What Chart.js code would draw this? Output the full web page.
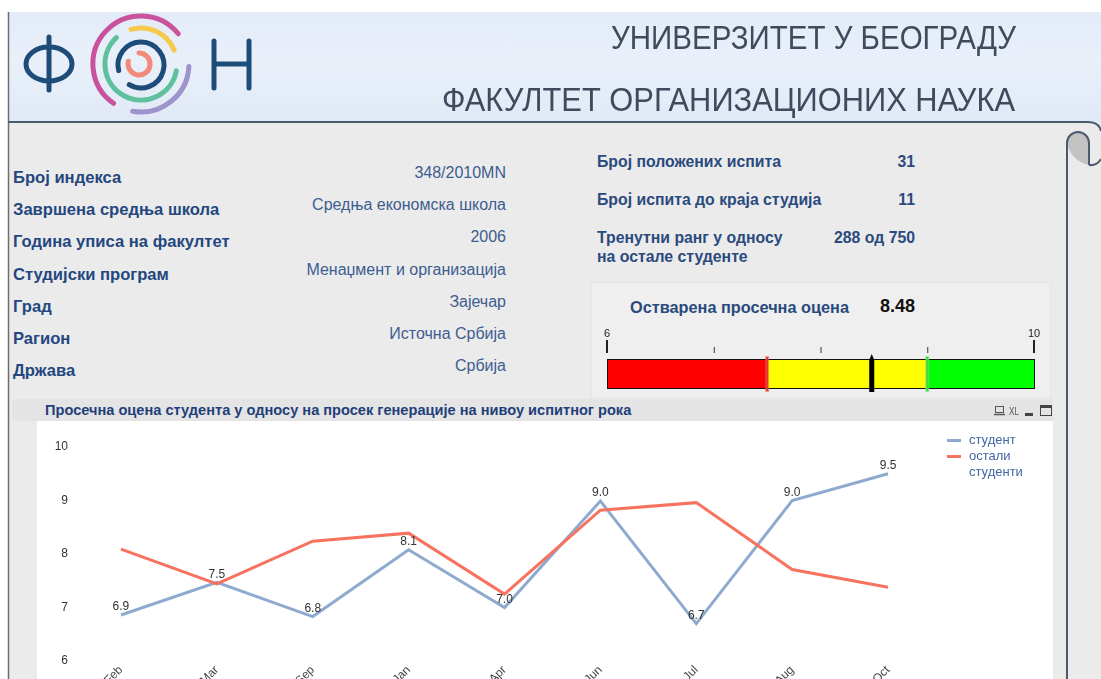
<!DOCTYPE html>
<html lang="sr">
<head>
<meta charset="utf-8">
<title>ФОН - просечна оцена студента</title>
<script src="https://cdn.jsdelivr.net/npm/chart.js@4.4.1/dist/chart.umd.min.js"></script>
<style>
  html, body { margin: 0; padding: 0; width: 1101px; height: 679px; overflow: hidden; background: #fff; }
  body { font-family: "Liberation Sans", Arial, sans-serif; }
  #page { position: relative; width: 1101px; height: 679px; overflow: hidden; }
  .abs { position: absolute; white-space: nowrap; }
  #header {
    position: absolute; left: 8px; top: 12px; width: 1093px; height: 110px;
    background: linear-gradient(180deg, #e3ebf8 0%, #e9f0fa 45%, #e0e9f6 100%);
  }
  #bodyArea { position: absolute; left: 8px; top: 122px; width: 1093px; height: 557px; background: #ebebeb; }
  .lbl { font-weight: bold; font-size: 16.6px; color: #24477f; line-height: 18px; }
  .val { font-size: 16px; color: #3d5d90; line-height: 18px; text-align: right; }
  .stat { font-weight: bold; font-size: 15.8px; color: #2a4a7e; line-height: 19px; }
  #gaugeBox { position: absolute; left: 591px; top: 282px; width: 460px; height: 116px; background: #efefef; border: 1px solid #e6e6e6; box-sizing: border-box; }
  #titleBar { position: absolute; left: 12px; top: 399px; width: 1041px; height: 22px; background: #e4e4e4; }
  #chartTitle { position: absolute; left: 45px; top: 402px; font-weight: bold; font-size: 14.6px; color: #1f3f7a; line-height: 17px; }
  #chartPanel { position: absolute; left: 37px; top: 421px; width: 1016px; height: 300px; background: #fff; }
  #chartPanel canvas { position: absolute; left: 0; top: 0; }
  .leg { font-size: 13px; color: #4466a0; line-height: 16px; }
  .legLine { position: absolute; width: 14px; height: 3px; }
</style>
</head>
<body>
<div id="page">
  <div id="header"></div>
  <div id="bodyArea"></div>
  <div id="gaugeBox"></div>
  <div id="titleBar"></div>
  <div id="chartTitle" class="abs">Просечна оцена студента у односу на просек генерације на нивоу испитног рока</div>
  <div id="chartPanel"><canvas id="gradeChart" width="1016" height="300"></canvas></div>
  <div id="legend"></div>
  <div id="info"></div>
  <div id="stats"></div>
  <div id="gauge"></div>
  <svg id="deco" class="abs" style="left:0;top:0" width="1101" height="679"></svg>
</div>

<script>
// chart data
const months = ['Feb', 'Mar', 'Sep', 'Jan', 'Apr', 'Jun', 'Jul', 'Aug', 'Oct'];
const studentAvg = [6.86, 7.47, 6.83, 8.08, 7.00, 8.99, 6.70, 9.00, 9.50];
const othersAvg = [8.09, 7.44, 8.24, 8.39, 7.25, 8.82, 8.96, 7.71, 7.38];
const yTicks = [6, 7, 8, 9, 10];
const seriesNames = ['студент', 'остали студенти'];

// student info
const infoLabels = ['Број индекса', 'Завршена средња школа', 'Година уписа на факултет', 'Студијски програм', 'Град', 'Рагион', 'Држава'];
const infoValues = ['348/2010MN', 'Средња економска школа', '2006', 'Менаџмент и организација', 'Зајечар', 'Источна Србија', 'Србија'];
const statLabels = ['Број положених испита', 'Број испита до краја студија', 'Тренутни ранг у односу<br>на остале студенте'];
const statValues = ['31', '11', '288 од 750'];

// gauge
const gaugeMin = 6, gaugeMax = 10, gaugeValue = 8.48;
const gaugeBands = [7.5, 9];

const SVGNS = 'http://www.w3.org/2000/svg';
const deco = document.getElementById('deco');

function svgEl(tag, attrs, text) {
    const el = document.createElementNS(SVGNS, tag);
    Object.keys(attrs).forEach(k => el.setAttribute(k, attrs[k]));
    if (text) el.textContent = text;
    deco.appendChild(el);
    return el;
}

function arcPath(cx, cy, r, a0, a1) {
    const rad = a => a * Math.PI / 180;
    const x0 = cx + r * Math.cos(rad(a0)), y0 = cy + r * Math.sin(rad(a0));
    const x1 = cx + r * Math.cos(rad(a1)), y1 = cy + r * Math.sin(rad(a1));
    const large = (a1 - a0) > 180 ? 1 : 0;
    return `M${x0.toFixed(1)},${y0.toFixed(1)} A${r},${r} 0 ${large} 1 ${x1.toFixed(1)},${y1.toFixed(1)}`;
}

// frame lines + scroll curl
svgEl('line', { x1: 8.5, y1: 12, x2: 8.5, y2: 679, stroke: '#6d6d6d', 'stroke-width': 1.5 });
svgEl('path', { d: 'M8,122 L1088,122 Q1099,122 1101,131', fill: 'none', stroke: '#4b5a6e', 'stroke-width': 2 });
svgEl('path', { d: 'M1067,143 A11,11 0 0 1 1089,143 L1089,165 Q1071,161 1067,143 Z', fill: '#c2c2c2', stroke: 'none' });
svgEl('path', { d: 'M1067,679 L1067,143 A11,11 0 0 1 1089,143 L1089,165', fill: 'none', stroke: '#4b5a6e', 'stroke-width': 2 });
svgEl('path', { d: 'M1089,165 Q1097,166 1101,159', fill: 'none', stroke: '#4b5a6e', 'stroke-width': 2 });

// logo
const navy = '#1d4c79';
const logo = { fill: 'none', 'stroke-width': 5, 'stroke-linecap': 'round' };
svgEl('line', Object.assign({ x1: 49, y1: 37, x2: 49, y2: 90, stroke: navy }, logo));
svgEl('ellipse', Object.assign({ cx: 49, cy: 64, rx: 23, ry: 17, stroke: navy }, logo));
svgEl('path', Object.assign({ d: arcPath(141, 64, 48, 125, 321), stroke: '#c8529b' }, logo));
svgEl('path', Object.assign({ d: arcPath(141, 64, 48, 3, 100), stroke: '#9e94cb' }, logo));
svgEl('path', Object.assign({ d: arcPath(141, 64, 36, -106, -23), stroke: '#f5c94c' }, logo));
svgEl('path', Object.assign({ d: arcPath(141, 64, 36, 11, 227), stroke: '#5fc09d' }, logo));
svgEl('path', Object.assign({ d: arcPath(141, 65, 23, 166, 481), stroke: navy }, logo));
svgEl('path', Object.assign({ d: arcPath(139, 64, 11, -90, 195), stroke: '#f28a79' }, logo));
svgEl('path', Object.assign({ d: 'M214,41 L214,88 M249,41 L249,88 M214,64 L249,64', stroke: navy }, logo));

// header titles
const headFont = '"Liberation Sans Narrow", "Liberation Sans", Arial, sans-serif';
svgEl('text', { x: 611, y: 49, 'font-size': 34, 'font-family': headFont, fill: '#3f4b5d', textLength: 405, lengthAdjust: 'spacingAndGlyphs' }, 'УНИВЕРЗИТЕТ У БЕОГРАДУ');
svgEl('text', { x: 442, y: 111, 'font-size': 34, 'font-family': headFont, fill: '#3f4b5d', textLength: 573, lengthAdjust: 'spacingAndGlyphs' }, 'ФАКУЛТЕТ ОРГАНИЗАЦИОНИХ НАУКА');

// title bar icons
svgEl('rect', { x: 995.5, y: 406.5, width: 8, height: 6, fill: 'none', stroke: '#555', 'stroke-width': 1 });
svgEl('line', { x1: 994, y1: 414.5, x2: 1005, y2: 414.5, stroke: '#555', 'stroke-width': 1.5 });
svgEl('text', { x: 1009, y: 415, 'font-size': 11, 'font-family': headFont, fill: '#555', textLength: 10, lengthAdjust: 'spacingAndGlyphs' }, 'XL');
svgEl('rect', { x: 1025, y: 413, width: 8, height: 3, fill: '#444' });
svgEl('rect', { x: 1040.5, y: 405.5, width: 11, height: 10, fill: 'none', stroke: '#444', 'stroke-width': 1 });
svgEl('rect', { x: 1040, y: 405, width: 12, height: 3, fill: '#444' });

// left info table
const info = document.getElementById('info');
infoLabels.forEach((txt, i) => {
    const cy = 178 + i * 32.2;
    info.insertAdjacentHTML('beforeend',
        `<div class="abs lbl" style="left:13px;top:${cy - 9}px">${txt}</div>` +
        `<div class="abs val" style="right:${1101 - 506}px;top:${cy - 14}px">${infoValues[i]}</div>`);
});

// right stats
const stats = document.getElementById('stats');
const statY = [162, 200, 238];
statLabels.forEach((txt, i) => {
    stats.insertAdjacentHTML('beforeend',
        `<div class="abs stat" style="left:597px;top:${statY[i] - 10}px">${txt}</div>` +
        `<div class="abs stat" style="right:${1101 - 915}px;top:${statY[i] - 10}px">${statValues[i]}</div>`);
});

// gauge
const gauge = document.getElementById('gauge');
const gx0 = 607, gx1 = 1034;
const gx = v => gx0 + (v - gaugeMin) / (gaugeMax - gaugeMin) * (gx1 - gx0);
gauge.insertAdjacentHTML('beforeend',
    `<div class="abs" style="left:630px;top:297px;font-weight:bold;font-size:16.3px;color:#2a4a7e;line-height:20px">Остварена просечна оцена</div>` +
    `<div class="abs" style="left:880px;top:295px;font-weight:bold;font-size:18px;color:#111;line-height:22px">${gaugeValue.toFixed(2)}</div>`);
svgEl('text', { x: gx(gaugeMin), y: 337, 'font-size': 11, 'text-anchor': 'middle', 'font-family': headFont, fill: '#222' }, String(gaugeMin));
svgEl('text', { x: gx(gaugeMax), y: 337, 'font-size': 11, 'text-anchor': 'middle', 'font-family': headFont, fill: '#222' }, String(gaugeMax));
[gaugeMin, gaugeMax].forEach(v => svgEl('line', { x1: gx(v), y1: 340, x2: gx(v), y2: 353, stroke: '#222', 'stroke-width': 2 }));
[7, 8, 9].forEach(v => svgEl('line', { x1: gx(v) + 0.5, y1: 347, x2: gx(v) + 0.5, y2: 353, stroke: '#333', 'stroke-width': 1 }));
const bandColors = ['#ff0000', '#ffff00', '#00ff00'];
const bandEdges = [gaugeMin].concat(gaugeBands, [gaugeMax]);
bandColors.forEach((c, i) => svgEl('rect', { x: gx(bandEdges[i]), y: 359, width: gx(bandEdges[i + 1]) - gx(bandEdges[i]), height: 30, fill: c }));
svgEl('rect', { x: gx0 + 0.5, y: 359.5, width: gx1 - gx0, height: 29, fill: 'none', stroke: '#111', 'stroke-width': 1 });
svgEl('line', { x1: gx(gaugeBands[0]), y1: 356, x2: gx(gaugeBands[0]), y2: 392, stroke: '#f06060', 'stroke-width': 4, opacity: 0.6 });
svgEl('line', { x1: gx(gaugeBands[0]), y1: 357, x2: gx(gaugeBands[0]), y2: 391, stroke: '#e03a2a', 'stroke-width': 2 });
svgEl('line', { x1: gx(gaugeBands[1]), y1: 356, x2: gx(gaugeBands[1]), y2: 392, stroke: '#7be07b', 'stroke-width': 4, opacity: 0.7 });
svgEl('line', { x1: gx(gaugeBands[1]), y1: 357, x2: gx(gaugeBands[1]), y2: 391, stroke: '#3ed83e', 'stroke-width': 2 });
const nx = gx(gaugeValue);
svgEl('path', { d: `M${nx - 2.5},392 L${nx - 2.5},360 L${nx},354 L${nx + 2.5},360 L${nx + 2.5},392 Z`, fill: '#000' });

// legend
const legend = document.getElementById('legend');
legend.insertAdjacentHTML('beforeend',
    `<div class="legLine" style="left:947px;top:439px;background:#8faacf"></div>` +
    `<div class="abs leg" style="left:969px;top:432px">${seriesNames[0]}</div>` +
    `<div class="legLine" style="left:947px;top:455px;background:#f7725f"></div>` +
    `<div class="abs leg" style="left:969px;top:448px;white-space:normal;width:60px">${seriesNames[1]}</div>`);

// value labels over the student line
const pointLabels = {
    id: 'pointLabels',
    afterDatasetsDraw(chart) {
        const ctx = chart.ctx;
        const meta = chart.getDatasetMeta(0);
        ctx.save();
        ctx.font = '12px "Liberation Sans", Arial, sans-serif';
        ctx.fillStyle = '#333';
        ctx.textAlign = 'center';
        ctx.textBaseline = 'middle';
        meta.data.forEach((pt, i) => {
            ctx.fillText(studentAvg[i].toFixed(1), pt.x, pt.y - 8);
        });
        ctx.restore();
    }
};

const canvasH = 300;
const tickFont = { size: 12, family: '"Liberation Sans", Arial, sans-serif' };
new Chart(document.getElementById('gradeChart'), {
    type: 'line',
    data: {
        labels: months,
        datasets: [{
            label: seriesNames[0],
            data: studentAvg,
            borderColor: '#8faacf',
            borderWidth: 3,
            pointRadius: 0,
            tension: 0,
            order: 1
        }, {
            label: seriesNames[1],
            data: othersAvg,
            borderColor: '#f7725f',
            borderWidth: 3,
            pointRadius: 0,
            tension: 0,
            order: 0
        }]
    },
    options: {
        responsive: false,
        animation: false,
        devicePixelRatio: 1,
        layout: { padding: { top: 26, right: 117, left: 0, bottom: 0 } },
        plugins: { legend: { display: false }, tooltip: { enabled: false } },
        scales: {
            y: {
                min: yTicks[0],
                max: yTicks[yTicks.length - 1],
                afterFit: s => { s.width = 36; },
                afterBuildTicks: s => { s.ticks = yTicks.map(v => ({ value: v })); },
                ticks: { padding: 5, color: '#333', font: tickFont },
                grid: { drawOnChartArea: false, drawTicks: false },
                border: { display: false }
            },
            x: {
                offset: true,
                afterFit: s => { s.height = canvasH - 240; },
                ticks: { minRotation: 45, maxRotation: 45, padding: 2, color: '#444', font: tickFont },
                grid: { display: false, drawTicks: false },
                border: { display: false }
            }
        }
    },
    plugins: [pointLabels]
});
</script>
</body>
</html>
